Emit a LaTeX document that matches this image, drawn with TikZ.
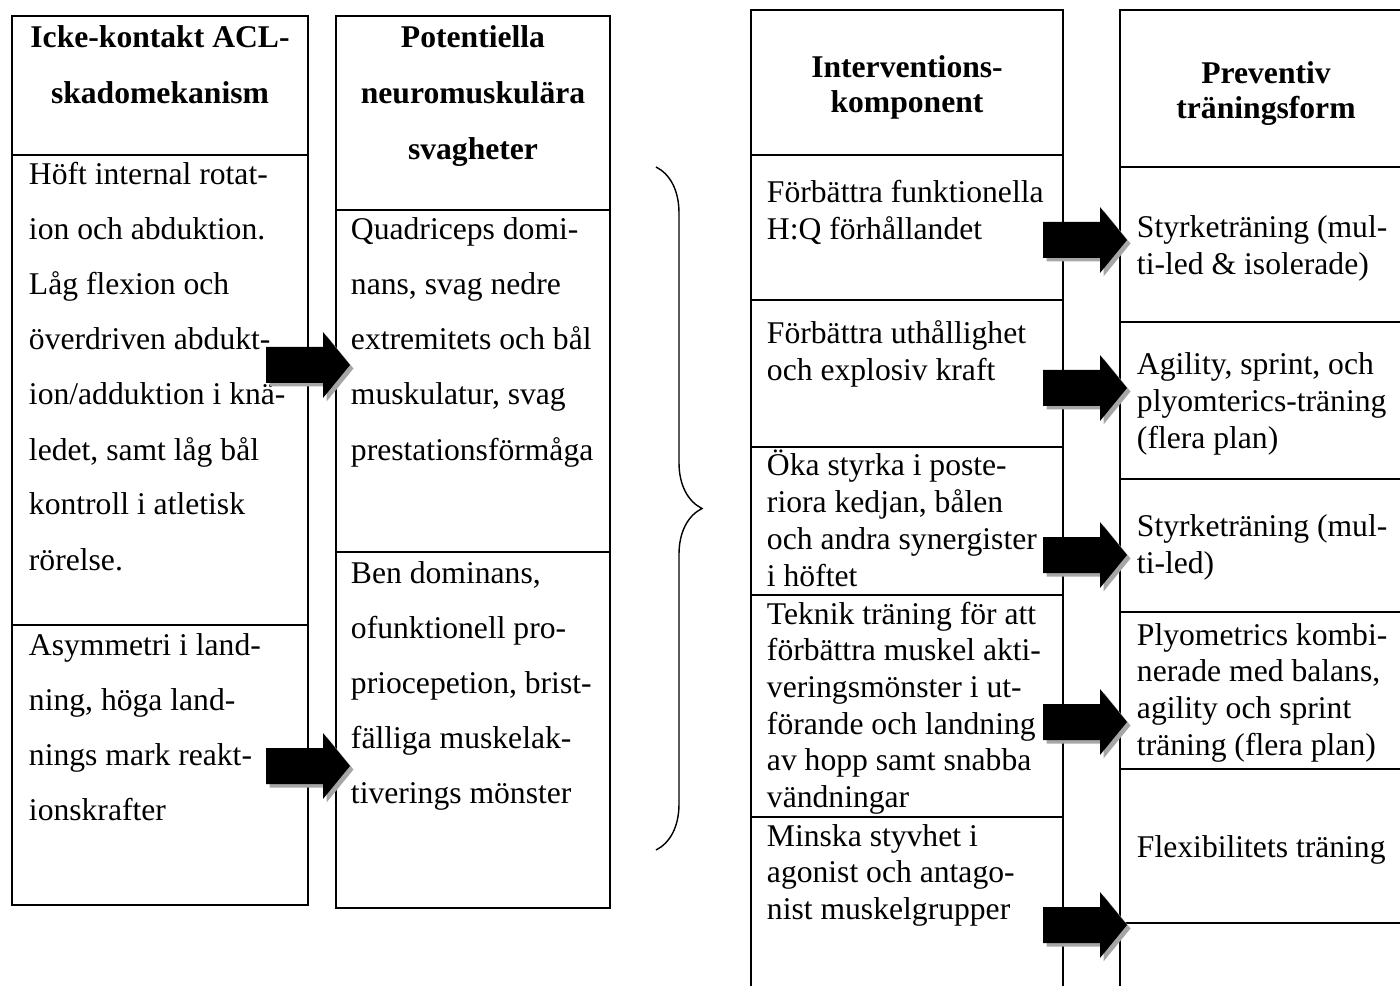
\documentclass[tikz,border=0pt]{standalone}
\usepackage{fontspec}
\setmainfont{Liberation Serif}
\usetikzlibrary{shadows,decorations.pathreplacing}
\tikzset{
  rad/.style={anchor=base west, inner sep=0pt, font=\fontsize{18}{21}\selectfont},
  rubrik/.style={anchor=base, inner sep=0pt, font=\fontsize{18}{21}\selectfont\bfseries},
  pil/.style={fill=black,
    drop shadow={shadow xshift=0.07cm, shadow yshift=-0.07cm, fill=black!35, opacity=1}}
}
% blockpil som slutar i en namngiven spets
\newcommand\blockpil[1]{\fill[pil] (#1) ++(-84,-18) -- ++(57,0) -- ++(0,-15) -- ++(27,33)
  -- ++(-27,33) -- ++(0,-15) -- ++(-57,0) -- cycle;}
\begin{document}
\begin{tikzpicture}[x=0.02cm,y=-0.02cm,line width=1.1pt]
  \useasboundingbox (0,0) rectangle (1400,986);
  \clip (0,0) rectangle (1400,986);
  % kolumnerna
  \draw (12,16) rectangle (308,905);
  \foreach \y in {155,625}
    \draw (12,\y) -- (308,\y);
  \draw (336,16) rectangle (610,908);
  \foreach \y in {210,552}
    \draw (336,\y) -- (610,\y);
  \draw (751,10) rectangle (1063,1000);
  \foreach \y in {155,300,447,595,817}
    \draw (751,\y) -- (1063,\y);
  \draw (1120,10) rectangle (1412,1000);
  \foreach \y in {167,322,479,612,769,923}
    \draw (1120,\y) -- (1412,\y);
  % rubriker
  \node[rubrik] (rub1a) at (160,48) {Icke-kontakt ACL-};
  \node[rubrik] (rub1b) at (160,104) {skadomekanism};
  \node[rubrik] (rub2a) at (473,48) {Potentiella};
  \node[rubrik] (rub2b) at (473,104) {neuromuskulära};
  \node[rubrik] (rub2c) at (473,160) {svagheter};
  \node[rubrik] (rub3a) at (907,78) {Interventions-};
  \node[rubrik] (rub3b) at (907,113) {komponent};
  \node[rubrik] (rub4a) at (1266,84) {Preventiv};
  \node[rubrik] (rub4b) at (1266,119) {träningsform};
  % skadomekanism
  \foreach \t [count=\i from 0] in {Höft internal rotat-, ion och abduktion., Låg flexion och,
      överdriven abdukt-, ion/adduktion i knä-, {ledet, samt låg bål}, kontroll i atletisk, rörelse.}
    \node[rad] (mek\i) at (28,185+55*\i) {\t};
  \foreach \t [count=\i from 0] in {Asymmetri i land-, {ning, höga land-}, nings mark reakt-, ionskrafter}
    \node[rad] (asym\i) at (28,655+55*\i) {\t};
  % svagheter
  \foreach \t [count=\i from 0] in {Quadriceps domi-, {nans, svag nedre}, extremitets och bål,
      {muskulatur, svag}, prestationsförmåga}
    \node[rad] (quad\i) at (350,240+55*\i) {\t};
  \foreach \t [count=\i from 0] in {{Ben dominans,}, ofunktionell pro-, {priocepetion, brist-},
      fälliga muskelak-, tiverings mönster}
    \node[rad] (ben\i) at (350,583+55*\i) {\t};
  % interventionskomponent
  \foreach \t [count=\i from 0] in {Förbättra funktionella, H:Q förhållandet}
    \node[rad] (hq\i) at (766,203+36.7*\i) {\t};
  \foreach \t [count=\i from 0] in {Förbättra uthållighet, och explosiv kraft}
    \node[rad] (uth\i) at (766,344+36.7*\i) {\t};
  \foreach \t [count=\i from 0] in {Öka styrka i poste-, {riora kedjan, bålen}, och andra synergister, i höftet}
    \node[rad] (oka\i) at (766,476+36.7*\i) {\t};
  \foreach \t [count=\i from 0] in {Teknik träning för att, förbättra muskel akti-, veringsmönster i ut-,
      förande och landning, av hopp samt snabba, vändningar}
    \node[rad] (tek\i) at (766,624+36.7*\i) {\t};
  \foreach \t [count=\i from 0] in {Minska styvhet i, agonist och antago-, nist muskelgrupper}
    \node[rad] (min\i) at (766,846+36.7*\i) {\t};
  % träningsform
  \foreach \t [count=\i from 0] in {Styrketräning (mul-, ti-led \& isolerade)}
    \node[rad] (sty\i) at (1136,238+36.7*\i) {\t};
  \foreach \t [count=\i from 0] in {{Agility, sprint, och}, plyomterics-träning, (flera plan)}
    \node[rad] (agi\i) at (1136,375+36.7*\i) {\t};
  \foreach \t [count=\i from 0] in {Styrketräning (mul-, ti-led)}
    \node[rad] (stm\i) at (1136,537+36.7*\i) {\t};
  \foreach \t [count=\i from 0] in {Plyometrics kombi-, {nerade med balans,}, agility och sprint, träning (flera plan)}
    \node[rad] (ply\i) at (1136,645+36.7*\i) {\t};
  \node[rad] (flex) at (1136,857) {Flexibilitets träning};
  % pilar
  \coordinate (spets1) at (350,365);
  \coordinate (spets2) at (350,766);
  \foreach \y [count=\i from 3] in {240,388,555,722,925}
    \coordinate (spets\i) at (1127,\y);
  \foreach \i in {1,...,7}
    \blockpil{spets\i}
  % klammer
  \coordinate (klamtopp) at (656,167);
  \coordinate (klambotten) at (656,850);
  \draw[decorate, decoration={brace, amplitude=0.92cm}, line width=0.8pt] (klamtopp) -- (klambotten);
\end{tikzpicture}
\end{document}
